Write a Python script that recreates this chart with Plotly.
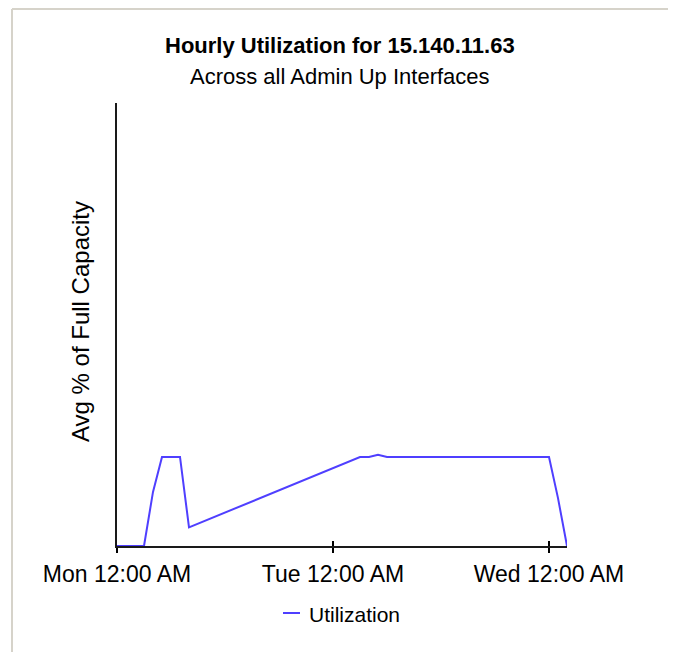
'''
    Hourly utilization line chart for one device, drawn with Plotly.
'''
import pandas as pd
import plotly.graph_objects as go

# data
start_day = "2003-06-02"  # a Monday
hours = [0, 1, 2, 3, 4, 5, 6, 7, 8, 27, 28, 29, 30, 48, 49, 50]
utilization = [0, 0, 0, 0, 12.2, 20.1, 20.1, 20.1, 4.2, 20.1, 20.1, 20.6, 20.1, 20.1, 10.8, 0]
tick_hours = [0, 24, 48]
tick_labels = ["Mon 12:00 AM", "Tue 12:00 AM", "Wed 12:00 AM"]

title_text = "Hourly Utilization for 15.140.11.63"
subtitle_text = "Across all Admin Up Interfaces"
yaxis_text = "Avg % of Full Capacity"
series_name = "Utilization"

W, H = 676, 652
OFF = 8  # page body margin: the figure starts 8px in from the window corner
PLOT_L, PLOT_R, PLOT_T, PLOT_B = 117 - OFF, 567 - OFF, 103 - OFF, 546 - OFF
FONT = "Arial, Liberation Sans, sans-serif"
LINE_COLOR = "#4f3fff"

base = pd.Timestamp(start_day)
times = [base + pd.Timedelta(hours=h) for h in hours]
tick_vals = [base + pd.Timedelta(hours=h) for h in tick_hours]


def px_x(x):
    # window pixel column -> paper x
    return (x - OFF - PLOT_L) / (PLOT_R - PLOT_L)


def px_y(y):
    # window pixel row -> paper y
    return (PLOT_B - (y - OFF)) / (PLOT_B - PLOT_T)


fig = go.Figure()
fig.add_trace(go.Scatter(
    x=times, y=utilization, mode="lines", name=series_name,
    line=dict(color=LINE_COLOR, width=2), showlegend=False,
))
# invisible copy so the overlay axis (inner tick halves) gets drawn
fig.add_trace(go.Scatter(
    x=times, y=utilization, mode="lines", xaxis="x2",
    line=dict(color="rgba(0,0,0,0)", width=0), showlegend=False, hoverinfo="skip",
))

x_range = [base, base + pd.Timedelta(hours=50)]
axis_common = dict(
    type="date", range=x_range, tickvals=tick_vals, ticktext=tick_labels,
    showgrid=False, zeroline=False, tickcolor="#000", tickwidth=1.5, ticklen=5,
)
fig.update_layout(
    width=W, height=H,
    margin=dict(l=PLOT_L, r=W - PLOT_R, t=PLOT_T, b=H - PLOT_B),
    paper_bgcolor="white", plot_bgcolor="white",
    font=dict(family=FONT, color="#000"),
    xaxis=dict(
        **axis_common, ticks="outside", showline=True, linecolor="#1a1a1a", linewidth=2,
        tickfont=dict(size=23, family=FONT, color="#000"), ticklabelstandoff=1,
    ),
    xaxis2=dict(
        **axis_common, ticks="inside", overlaying="x", anchor="y", side="bottom",
        showticklabels=False, showline=False,
    ),
    yaxis=dict(
        range=[0, 100], showline=True, linecolor="#1a1a1a", linewidth=2,
        showgrid=False, zeroline=False, showticklabels=False, ticks="",
    ),
    hovermode=False,
)

# titles
fig.add_annotation(
    text="<b>" + title_text + "</b>", x=px_x(340), y=px_y(46), xref="paper", yref="paper",
    showarrow=False, xanchor="center", yanchor="middle", font=dict(size=22, family=FONT),
)
fig.add_annotation(
    text=subtitle_text, x=px_x(340), y=px_y(76), xref="paper", yref="paper",
    showarrow=False, xanchor="center", yanchor="middle", font=dict(size=22, family=FONT),
)
fig.add_annotation(
    text=yaxis_text, x=px_x(80), y=px_y(322), xref="paper", yref="paper", textangle=-90,
    showarrow=False, xanchor="center", yanchor="middle", font=dict(size=24, family=FONT),
)

# legend, drawn by hand to keep its short line sample
fig.add_shape(type="line", xref="paper", yref="paper",
              x0=px_x(283), x1=px_x(300), y0=px_y(613), y1=px_y(613),
              line=dict(color=LINE_COLOR, width=2))
fig.add_annotation(
    text=series_name, x=px_x(307), y=px_y(614), xref="paper", yref="paper",
    showarrow=False, xanchor="left", yanchor="middle", font=dict(size=21, family=FONT),
)

# panel frame around the chart
frame = [
    (12, 9, 12, H + 5, "#d6d3ca", 2),
    (12, 9, 676, 9, "#d6d3ca", 2),
    (669.5, 9, 669.5, H + 5, "#b8b6b0", 1.5),
    (671.5, 9, 671.5, H + 5, "#6e6e6e", 2),
]
for x0, y0, x1, y1, col, w in frame:
    fig.add_shape(type="line", xref="paper", yref="paper",
                  x0=px_x(x0), x1=px_x(x1), y0=px_y(y0), y1=px_y(y1),
                  line=dict(color=col, width=w))

fig.write_html("out.html")
